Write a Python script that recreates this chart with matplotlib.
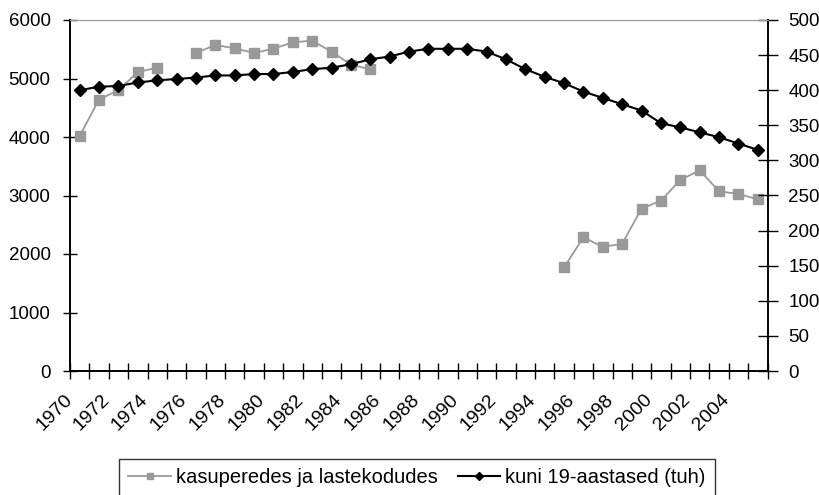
import numpy as np
import matplotlib
matplotlib.use('Agg')
import matplotlib.pyplot as plt

plt.rcParams['font.family'] = ['Liberation Sans', 'DejaVu Sans']
plt.rcParams['font.size'] = 13.5

years = list(range(1970, 2006))

# kasuperedes ja lastekodudes (left axis), gaps are missing years
foster = [4020, 4640, 4800, 5110, 5185, np.nan, 5436, 5573, 5516, 5436,
          5510, 5618, 5647, 5459, 5236, 5157, np.nan, np.nan, np.nan, np.nan,
          np.nan, np.nan, np.nan, np.nan, np.nan, 1772, 2285, 2120, 2176, 2775,
          2911, 3265, 3431, 3072, 3026, 2935]

# kuni 19-aastased, tuhandetes (right axis)
youth = [400, 405, 406, 411, 414, 416, 418, 421, 421, 423,
         423, 426, 430, 432, 437, 444, 448, 455, 459, 459,
         459, 455, 444, 430, 419, 410, 398, 389, 380, 371,
         353, 347, 340, 333, 324, 315]

x = np.arange(len(years))

fig = plt.figure(figsize=(8.19, 4.95), dpi=100)
ax = fig.add_axes([70 / 819, 1 - 371 / 495, (767.5 - 70) / 819, (371 - 20) / 495])
ax2 = ax.twinx()

l1, = ax.plot(x, foster, color='#999999', lw=1.3, marker='s', ms=7,
              markeredgecolor='#999999', label='kasuperedes ja lastekodudes')
l2, = ax2.plot(x, youth, color='black', lw=1.5, marker='D', ms=6.5,
               label='kuni 19-aastased (tuh)')

ax.set_ylim(0, 6000)
ax2.set_ylim(0, 500)
ax.set_yticks(np.arange(0, 6001, 1000))
ax2.set_yticks(np.arange(0, 501, 50))

# label anchors sit a little left of the category centre, like Excel
# (kept inside the axis range so the first label is not dropped)
ax.set_xticks(np.maximum(x[::2] - 0.6, -0.49))
ax.set_xticklabels([str(y) for y in years[::2]], rotation=45, ha='right',
                   va='center', rotation_mode='anchor', fontsize=14)
ax.set_xticks(np.arange(-0.5, len(years)), minor=True)
ax.set_xlim(-0.5, len(years) - 0.5)
ax.tick_params(axis='x', which='major', length=0, pad=19)
ax.tick_params(axis='x', which='minor', direction='inout', length=11, width=1)
ax.tick_params(axis='y', direction='inout', length=10, width=1, pad=9)
ax2.tick_params(axis='y', direction='inout', length=14, width=1, pad=8)

for a in (ax, ax2):
    a.spines['top'].set_color('#999999')
    for s in ('left', 'right', 'bottom'):
        a.spines[s].set_color('black')
        a.spines[s].set_linewidth(1.2)

leg = fig.legend(handles=[l1, l2], loc='upper center', ncol=2,
                 bbox_to_anchor=(417 / 819, 1 - 459 / 495), frameon=True,
                 fancybox=False, edgecolor='black', fontsize=14.5,
                 handlelength=2.1, handletextpad=0.25, columnspacing=1.0,
                 borderpad=0.45, borderaxespad=0, markerscale=0.7)
leg.get_frame().set_linewidth(1.0)

fig.savefig('out.png', dpi=100)
